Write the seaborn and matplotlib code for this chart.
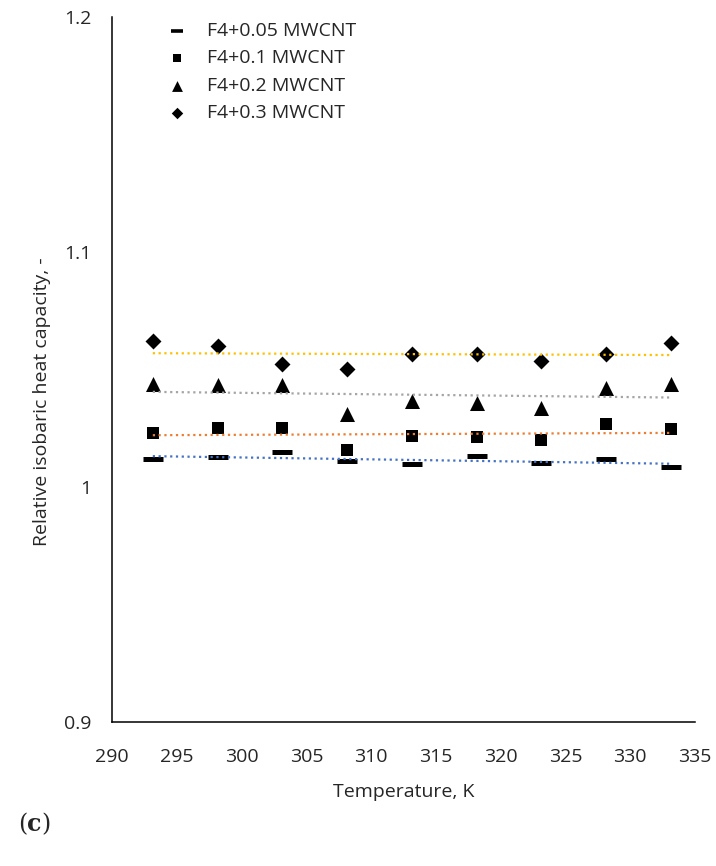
import numpy as np
import pandas as pd
import matplotlib
matplotlib.use('Agg')
import matplotlib.pyplot as plt
from matplotlib.ticker import FuncFormatter
import seaborn as sns

# temperatures, K
temperature = [293.15, 298.15, 303.15, 308.15, 313.15, 318.15, 323.15, 328.15, 333.15]

# relative isobaric heat capacity
cp_005 = [1.0120, 1.0127, 1.0148, 1.0109, 1.0096, 1.0133, 1.0100, 1.0117, 1.0085]
cp_01 = [1.0228, 1.0251, 1.0251, 1.0157, 1.0216, 1.0211, 1.0199, 1.0267, 1.0247]
cp_02 = [1.0439, 1.0432, 1.0432, 1.0312, 1.0366, 1.0357, 1.0336, 1.0421, 1.0439]
cp_03 = [1.0623, 1.0599, 1.0524, 1.0500, 1.0564, 1.0567, 1.0534, 1.0564, 1.0613]

labels = ['F4+0.05 MWCNT', 'F4+0.1 MWCNT', 'F4+0.2 MWCNT', 'F4+0.3 MWCNT']

series = [cp_005, cp_01, cp_02, cp_03]
markers = ['_', 's', '^', 'D']
sizes = [196, 74, 117, 66]
trend_colors = ['#4472C4', '#ED7D31', '#A5A5A5', '#FFC000']

sns.set_style('white')
plt.rcParams['font.family'] = ['Open Sans', 'DejaVu Sans']
plt.rcParams['font.size'] = 14
text_col = '#262626'

fig = plt.figure(figsize=(7.16, 8.66), dpi=100)
ax = fig.add_axes([0.1564, 0.1663, 0.8143, 0.8141])

for vals, lab, mk, sz, col in zip(series, labels, markers, sizes, trend_colors):
    df = pd.DataFrame({'T': temperature, 'cp': vals})
    if mk == '_':
        sns.scatterplot(data=df, x='T', y='cp', marker=mk, s=sz, color='black',
                        linewidth=3.6, label=lab, ax=ax, zorder=2)
    else:
        sns.scatterplot(data=df, x='T', y='cp', marker=mk, s=sz, color='black',
                        linewidth=0, label=lab, ax=ax, zorder=2)
    # linear trendline (dotted, like Excel)
    sns.regplot(data=df, x='T', y='cp', scatter=False, ci=None, ax=ax,
                line_kws={'color': col, 'linestyle': (0, (1, 1.6)), 'linewidth': 1.6, 'zorder': 3})

ax.set_xlim(290, 335)
ax.set_ylim(0.9, 1.2)
ax.set_xticks(np.arange(290, 336, 5))
ax.set_yticks([0.9, 1.0, 1.1, 1.2])
ax.yaxis.set_major_formatter(FuncFormatter(lambda v, p: '{:g}'.format(round(v, 2))))

sns.despine(ax=ax)
for side in ['left', 'bottom']:
    ax.spines[side].set_color('black')
    ax.spines[side].set_linewidth(1.1)
ax.tick_params(axis='x', direction='inout', length=10, width=1.1, color='black', pad=14,
               labelsize=14, labelcolor=text_col)
ax.tick_params(axis='y', direction='out', length=6, width=1.1, color='black', pad=9,
               labelsize=14, labelcolor=text_col)

ax.set_xlabel('Temperature, K', fontsize=14, labelpad=12, color=text_col)
ax.set_ylabel('Relative isobaric heat capacity, -', fontsize=14, color=text_col)
ax.yaxis.set_label_coords(-0.105, 0.455)

leg = ax.legend(loc='upper left', bbox_to_anchor=(0.055, 1.012), frameon=False,
                fontsize=14, handletextpad=0.55, labelspacing=0.48, borderaxespad=0.3,
                markerscale=0.72)
for t in leg.get_texts():
    t.set_color(text_col)
for h in leg.legend_handles:
    h.set_color('black')
# the dash handle keeps its line width, shrink it by hand
leg.legend_handles[0].set_sizes([64])
leg.legend_handles[0].set_linewidth(2.6)

fig.text(0.025, 0.04, '(', fontsize=17, family='DejaVu Serif')
fig.text(0.038, 0.04, 'c', fontsize=17, family='DejaVu Serif', fontweight='bold')
fig.text(0.058, 0.04, ')', fontsize=17, family='DejaVu Serif')

fig.savefig('out.png', dpi=100)
